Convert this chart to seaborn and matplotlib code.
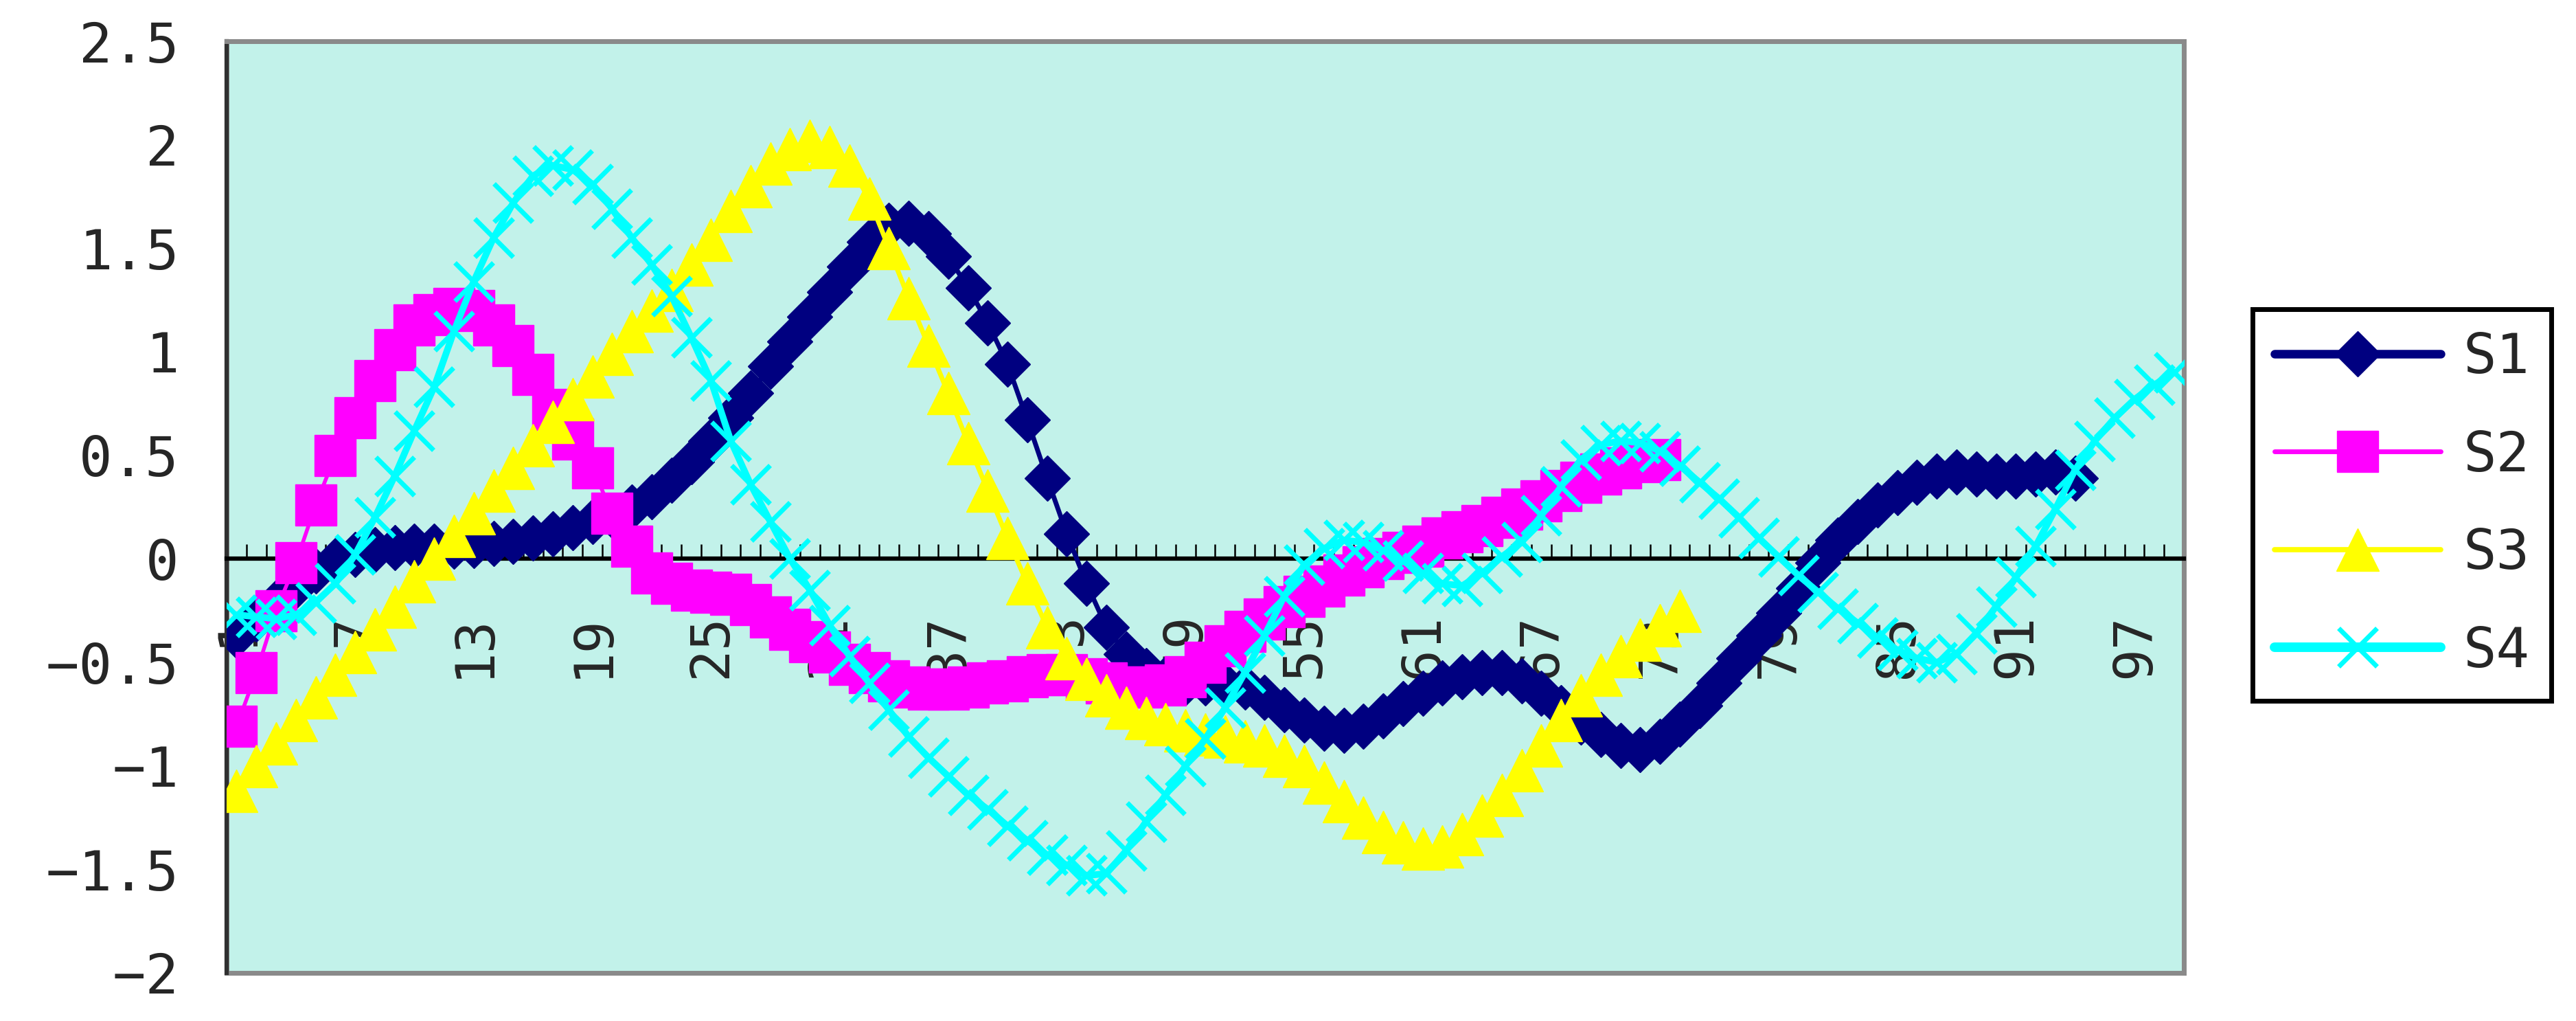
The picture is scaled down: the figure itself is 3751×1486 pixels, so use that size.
import matplotlib
matplotlib.use("Agg")
import matplotlib.pyplot as plt
import seaborn as sns

# ---------------- data ----------------
categories = list(range(1, 100))
x_tick_positions = list(range(1, 100, 6))
x_tick_labels = [str(v) for v in x_tick_positions]
y_tick_values = [-2, -1.5, -1, -0.5, 0, 0.5, 1, 1.5, 2, 2.5]
y_tick_labels = ["\u22122", "\u22121.5", "\u22121", "\u22120.5", "0", "0.5", "1", "1.5", "2", "2.5"]
series_names = ["S1", "S2", "S3", "S4"]

s1 = [-0.37, -0.29, -0.21, -0.13, -0.06, -0.01, 0.02, 0.045, 0.055, 0.06,
      0.06, 0.06, 0.065, 0.075, 0.085, 0.10, 0.12, 0.15, 0.18, 0.21,
      0.25, 0.30, 0.38, 0.47, 0.57, 0.68, 0.80, 0.93, 1.05, 1.17,
      1.29, 1.41, 1.53, 1.61, 1.62, 1.57, 1.46, 1.31, 1.14, 0.94,
      0.67, 0.39, 0.12, -0.12, -0.33, -0.46, -0.54, -0.58, -0.60, -0.60,
      -0.61, -0.62, -0.67, -0.73, -0.78, -0.82, -0.83, -0.81, -0.76, -0.70,
      -0.65, -0.60, -0.57, -0.55, -0.55, -0.59, -0.65, -0.72, -0.79, -0.85,
      -0.90, -0.92, -0.88, -0.80, -0.71, -0.60, -0.48, -0.37, -0.26, -0.14,
      -0.02, 0.09, 0.18, 0.26, 0.32, 0.37, 0.40, 0.42, 0.41, 0.40,
      0.40, 0.41, 0.42, 0.39]

s2 = [-0.81, -0.55, -0.25, -0.02, 0.26, 0.50, 0.68, 0.86, 1.01, 1.13,
      1.18, 1.21, 1.20, 1.13, 1.03, 0.89, 0.72, 0.58, 0.44, 0.22,
      0.06, -0.07, -0.12, -0.15, -0.16, -0.17, -0.22, -0.28, -0.34, -0.40,
      -0.45, -0.51, -0.55, -0.59, -0.62, -0.63, -0.63, -0.62, -0.60, -0.59,
      -0.57, -0.56, -0.56, -0.58, -0.60, -0.62, -0.62, -0.61, -0.57, -0.50,
      -0.42, -0.35, -0.29, -0.23, -0.18, -0.13, -0.08, -0.04, 0.00, 0.03,
      0.06, 0.10, 0.13, 0.16, 0.20, 0.24, 0.28, 0.33, 0.37, 0.41,
      0.44, 0.47, 0.48]

s3 = [-1.12, -1.00, -0.89, -0.78, -0.67, -0.56, -0.45, -0.34, -0.23, -0.11,
      0.00, 0.11, 0.22, 0.33, 0.44, 0.55, 0.66, 0.77, 0.88, 0.99,
      1.10, 1.20, 1.30, 1.42, 1.54, 1.68, 1.80, 1.91, 1.98, 2.02,
      1.99, 1.90, 1.74, 1.50, 1.26, 1.03, 0.80, 0.56, 0.33, 0.10,
      -0.12, -0.33, -0.48, -0.58, -0.66, -0.72, -0.77, -0.80, -0.83, -0.85,
      -0.86, -0.88, -0.90, -0.95, -1.00, -1.08, -1.17, -1.25, -1.32, -1.37,
      -1.40, -1.39, -1.33, -1.24, -1.14, -1.02, -0.90, -0.78, -0.66, -0.56,
      -0.47, -0.39, -0.32, -0.25]

s4 = [-0.27, -0.28, -0.29, -0.27, -0.21, -0.12, 0.02, 0.20, 0.40, 0.62,
      0.83, 1.10, 1.34, 1.55, 1.72, 1.85, 1.90, 1.88, 1.81, 1.69,
      1.55, 1.42, 1.27, 1.07, 0.86, 0.57, 0.36, 0.18, 0.00, -0.15,
      -0.32, -0.47, -0.60, -0.73, -0.86, -0.96, -1.05, -1.14, -1.21, -1.29,
      -1.36, -1.43, -1.48, -1.53, -1.52, -1.41, -1.27, -1.14, -1.00, -0.87,
      -0.72, -0.55, -0.37, -0.18, -0.03, 0.05, 0.09, 0.08, 0.04, -0.01,
      -0.07, -0.12, -0.13, -0.07, 0.01, 0.08, 0.21, 0.35, 0.48, 0.55,
      0.57, 0.56, 0.52, 0.45, 0.37, 0.29, 0.20, 0.10, 0.01, -0.08,
      -0.16, -0.24, -0.31, -0.38, -0.44, -0.48, -0.50, -0.46, -0.36, -0.23,
      -0.09, 0.06, 0.24, 0.43, 0.57, 0.68, 0.77, 0.84, 0.90]

# ---------------- style ----------------
sns.set_style("white")
plt.rcParams["font.family"] = ["DejaVu Sans Mono", "DejaVu Sans"]
plt.rcParams["axes.unicode_minus"] = True

W, H = 3751, 1486
fig = plt.figure(figsize=(W / 100, H / 100), dpi=100)
L, R, T, B = 330, 3180, 60, 1416
ax = fig.add_axes([L / W, (H - B) / H, (R - L) / W, (B - T) / H])
ax.set_facecolor("#C2F2EA")

styles = [
    dict(color="#000080", marker="D", markersize=34, linewidth=5,
         markeredgecolor="#000080", markeredgewidth=1),
    dict(color="#FF00FF", marker="s", markersize=43, linewidth=4,
         markeredgecolor="#FF00FF", markeredgewidth=1),
    dict(color="#FFFF00", marker="^", markersize=44, linewidth=5,
         markeredgecolor="#FFFF00", markeredgewidth=1),
    dict(color="#00FFFF", marker="x", markersize=40, linewidth=7,
         markeredgecolor="#00FFFF", markeredgewidth=5),
]
legend_lw = [9, 5, 5.5, 10]

for i, (name, vals) in enumerate(zip(series_names, [s1, s2, s3, s4])):
    sns.lineplot(x=categories[:len(vals)], y=vals, ax=ax, label=name,
                 zorder=3 + i, **styles[i])

ax.set_xlim(0.5, 99.5)
ax.set_ylim(-2, 2.5)
ax.set_xlabel("")
ax.set_ylabel("")

# frame
ax.patch.set_edgecolor("#8A8A8A")
ax.patch.set_linewidth(5)
for s in ["top", "right"]:
    ax.spines[s].set_color("#8A8A8A")
    ax.spines[s].set_linewidth(5)
ax.spines["left"].set_color("#303030")
ax.spines["left"].set_linewidth(4.5)
ax.spines["bottom"].set_position(("data", 0))
ax.spines["bottom"].set_color("black")
ax.spines["bottom"].set_linewidth(4.5)
ax.spines["bottom"].set_zorder(2.6)

# y axis
ax.set_yticks(y_tick_values)
ax.set_yticklabels(y_tick_labels)
ax.tick_params(axis="y", direction="in", length=16, width=4.5, color="#202020",
               pad=50, labelsize=58, labelcolor="#262626")

# x axis
ax.set_xticks(x_tick_positions)
ax.set_xticklabels(x_tick_labels, rotation=90)
ax.set_xticks([c - 0.5 for c in categories] + [categories[-1] + 0.5], minor=True)
ax.tick_params(axis="x", which="major", direction="in", length=0, pad=58,
               labelsize=56, labelcolor="#262626")
ax.tick_params(axis="x", which="minor", direction="in", length=15, width=1.8,
               color="black")
ax.tick_params(axis="x", which="both", bottom=True, top=False)

handles, labels = ax.get_legend_handles_labels()
if ax.get_legend() is not None:
    ax.get_legend().remove()
leg = fig.legend(handles, labels, loc="upper left",
                 bbox_to_anchor=(3280 / W, 1 - 450 / H),
                 bbox_transform=fig.transFigure, borderaxespad=0,
                 frameon=True, fancybox=False, framealpha=1,
                 edgecolor="black", prop={"size": 58},
                 handlelength=3.0, handletextpad=0.4, borderpad=0.4,
                 labelspacing=0.8, numpoints=1)
leg.get_frame().set_linewidth(5)
for t in leg.get_texts():
    t.set_color("#262626")
leg_lines = leg.get_lines() if hasattr(leg, "get_lines") else leg.legend_handles
for ln, lw in zip(leg_lines, legend_lw):
    ln.set_linewidth(lw)

fig.savefig("out.png", dpi=100)
